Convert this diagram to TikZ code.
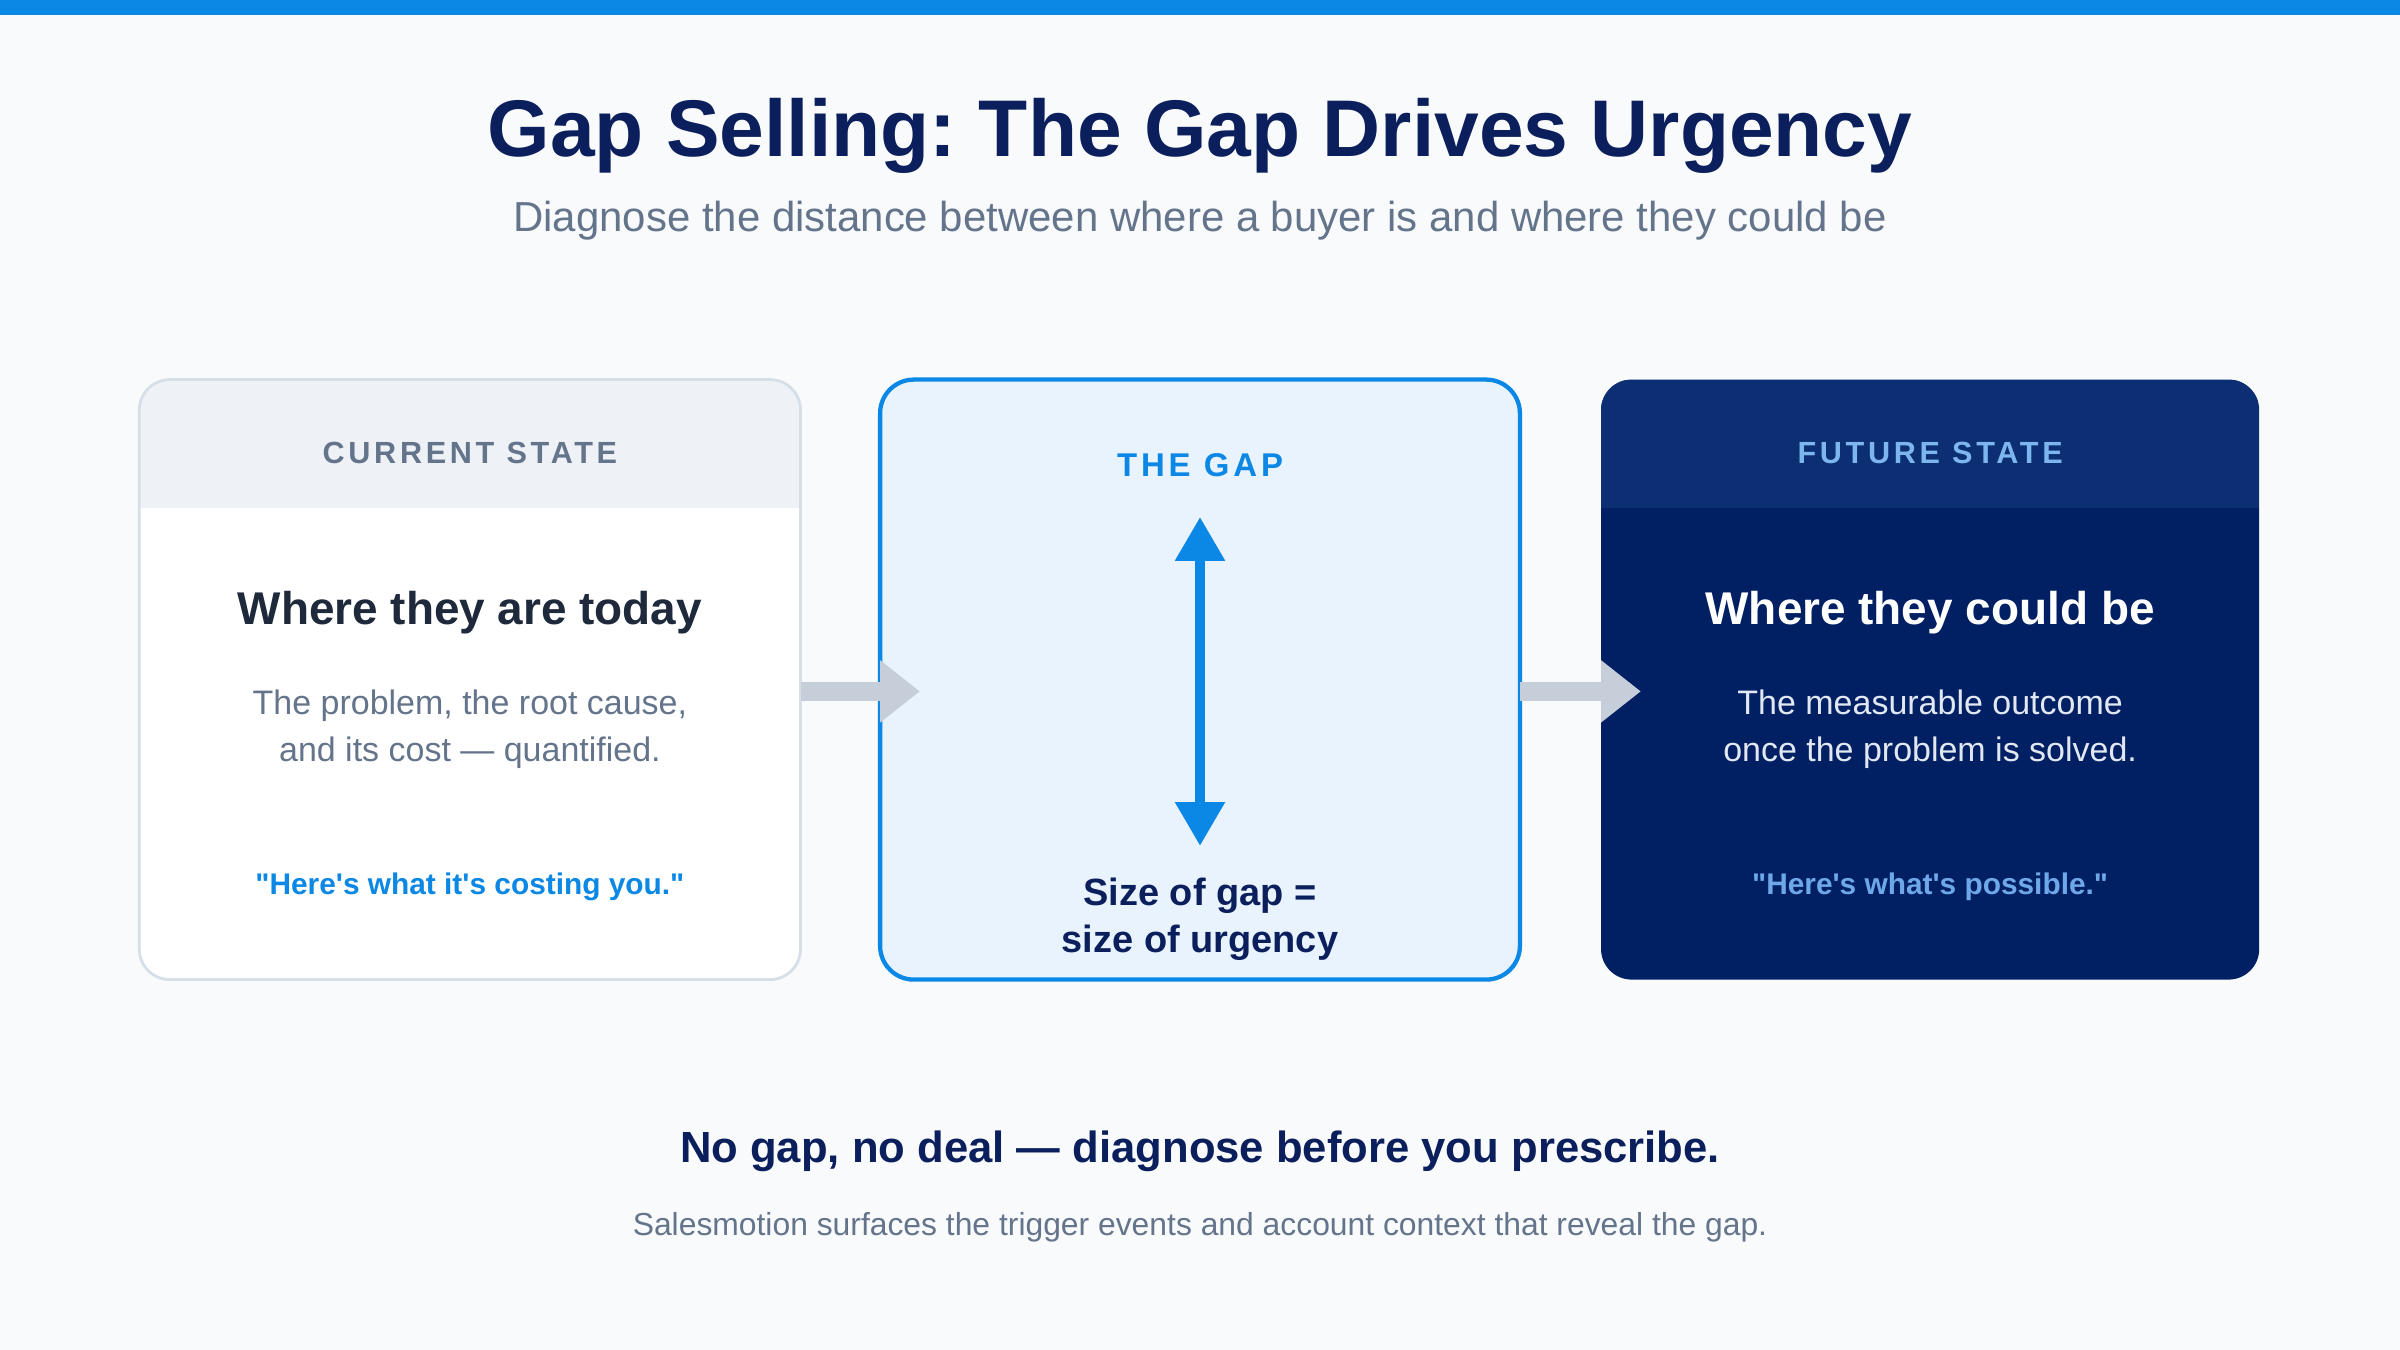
\documentclass[tikz,border=0pt]{standalone}
\usepackage{fontspec}
\setmainfont{Liberation Sans}
\newfontfamily\spacedfont[LetterSpace=12]{Liberation Sans}
\newfontfamily\plainquote{Liberation Sans}
\usetikzlibrary{arrows.meta}
\frenchspacing
\definecolor{bg}{HTML}{F8FAFC}
\definecolor{topbar}{HTML}{0B88E5}
\definecolor{navy}{HTML}{0B1F5C}
\definecolor{slate}{HTML}{64748B}
\definecolor{darkslate}{HTML}{1E293B}
\definecolor{cardline}{HTML}{D6DEE8}
\definecolor{hdrone}{HTML}{EEF2F7}
\definecolor{gapfill}{HTML}{E8F3FD}
\definecolor{gapblue}{HTML}{0B88E5}
\definecolor{futbody}{HTML}{002063}
\definecolor{futhdr}{HTML}{0C2E73}
\definecolor{futlabel}{HTML}{7DB5EE}
\definecolor{futquote}{HTML}{6EA8E8}
\definecolor{futtext}{HTML}{E2E8F2}
\definecolor{arrowgray}{HTML}{C5CED9}
\tikzset{
  card/.style={minimum height=392pt, inner sep=0pt, outer sep=0pt, rounded corners=20pt},
  txt/.style={anchor=base, inner sep=0pt, outer sep=0pt},
  label/.style={txt, font={\fontsize{20}{24}\selectfont\bfseries\spacedfont}},
  headline/.style={txt, font={\fontsize{30}{35}\selectfont\bfseries}},
  bodytxt/.style={txt, font={\fontsize{22.2}{26}\selectfont}},
  quotetxt/.style={txt, font={\plainquote\fontsize{19.5}{24}\selectfont\bfseries}},
  flowarrow/.style={draw=arrowgray, line width=12.2pt, -{Triangle[width=39pt,length=26pt,fill=arrowgray]}},
}
\begin{document}
\begin{tikzpicture}[x=1pt,y=-1pt]
\useasboundingbox (0,0) rectangle (1568,882);
\fill[bg] (0,0) rectangle (1568,882);
\fill[topbar] (0,0) rectangle (1568,10);

% title
\node[txt, text=navy, font={\fontsize{52.5}{62}\selectfont\bfseries}] (title) at (784,102.5) {Gap Selling: The Gap Drives Urgency};
\node[txt, text=slate, font={\fontsize{27.4}{32}\selectfont}] (subtitle) at (784,151.5) {Diagnose the distance between where a buyer is and where they could be};

% current state card
\node[card, minimum width=432pt, fill=white] (cur) at (307,444) {};
\begin{scope}
  \clip[rounded corners=20pt] (cur.north west) rectangle (cur.south east);
  \fill[hdrone] (cur.north west) rectangle ([yshift=-84pt]cur.north east);
\end{scope}
\draw[cardline, line width=1.8pt, rounded corners=20pt] (cur.north west) rectangle (cur.south east);

% gap card
\node[card, minimum width=418pt, fill=gapfill, draw=gapblue, line width=2.8pt, rounded corners=22pt] (gap) at (784,444) {};

% future state card
\node[card, minimum width=430pt, fill=futbody] (fut) at (1261,444) {};
\begin{scope}
  \clip[rounded corners=20pt] (fut.north west) rectangle (fut.south east);
  \fill[futhdr] (fut.north west) rectangle ([yshift=-84pt]fut.north east);
\end{scope}

% flow arrows
\draw[flowarrow] ([yshift=-7.7pt]cur.east) -- ([xshift=26pt,yshift=-7.7pt]gap.west);
\draw[flowarrow] ([yshift=-7.7pt]gap.east) -- ([xshift=26pt,yshift=-7.7pt]fut.west);

% current state texts
\node[label, text=slate] (curlab) at (307,302.8) {CURRENT STATE};
\node[headline, text=darkslate] (curhead) at (307,408) {Where they are today};
\node[bodytxt, text=slate] (curb1) at (307,466.5) {The problem, the root cause,};
\node[bodytxt, text=slate] (curb2) at (307,497.5) {and its cost — quantified.};
\node[quotetxt, text=gapblue] (curq) at (307,584.5) {"Here's what it's costing you."};

% gap texts
\node[label, text=gapblue, font={\fontsize{21.5}{26}\selectfont\bfseries\spacedfont}] (gaplab) at (784,311) {THE GAP};
\coordinate (gtop) at (784,337.8);
\coordinate (gbot) at (784,552.6);
\draw[gapblue, line width=6.2pt, {Triangle[width=31.2pt,length=28.6pt]}-{Triangle[width=31.2pt,length=28.6pt]}] (gtop) -- (gbot);
\node[txt, text=navy, font={\fontsize{24.8}{30}\selectfont\bfseries}] (gapt1) at (784,591.5) {Size of gap =};
\node[txt, text=navy, font={\fontsize{24.8}{30}\selectfont\bfseries}] (gapt2) at (784,622) {size of urgency};

% future state texts
\node[label, text=futlabel] (futlab) at (1261,302.8) {FUTURE STATE};
\node[headline, text=white] (futhead) at (1261,408) {Where they could be};
\node[bodytxt, text=futtext] (futb1) at (1261,466.5) {The measurable outcome};
\node[bodytxt, text=futtext] (futb2) at (1261,497.5) {once the problem is solved.};
\node[quotetxt, text=futquote] (futq) at (1261,584.5) {"Here's what's possible."};

% bottom
\node[txt, text=navy, font={\fontsize{28.5}{34}\selectfont\bfseries}] (tag) at (784,759.6) {No gap, no deal — diagnose before you prescribe.};
\node[txt, text=slate, font={\fontsize{20.8}{25}\selectfont}] (foot) at (784,806.9) {Salesmotion surfaces the trigger events and account context that reveal the gap.};
\end{tikzpicture}
\end{document}
